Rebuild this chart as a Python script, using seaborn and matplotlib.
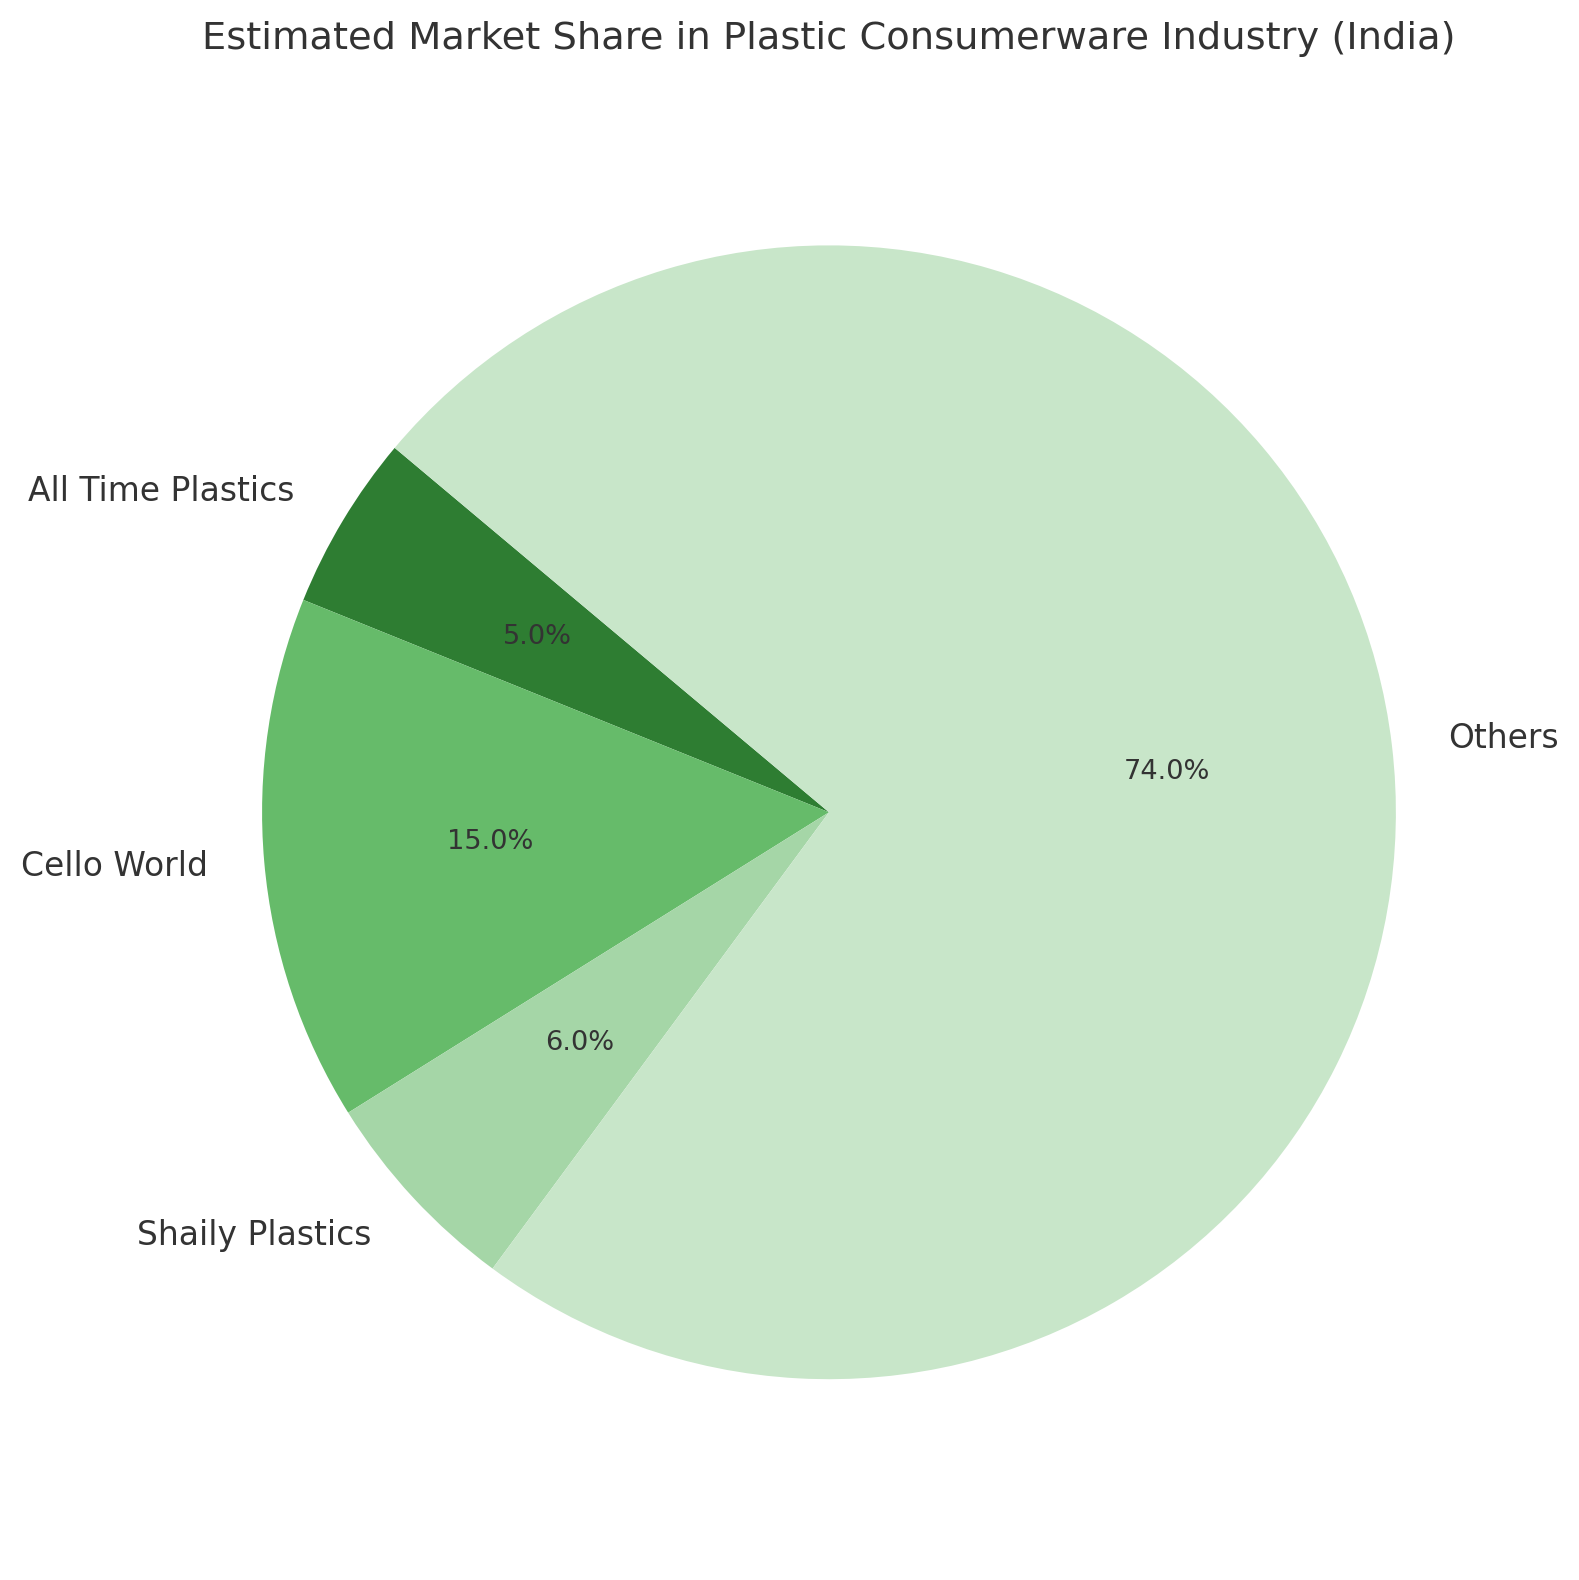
import matplotlib
matplotlib.use("Agg")
import matplotlib.pyplot as plt
import seaborn as sns

sns.set_theme(style="white")
labels = ["All Time Plastics", "Cello World", "Shaily Plastics", "Others"]
shares = [5.0, 15.0, 6.0, 74.0]
colors = ["#2e7d32", "#66bb6a", "#a5d6a7", "#c8e6c9"]

fig = plt.figure(figsize=(1579/158, 1580/158), dpi=158)
ax = fig.add_axes([0.076, 0.0374, 0.898, 0.897])
wedges, texts, autotexts = ax.pie(shares, labels=labels, colors=colors, autopct="%1.1f%%",
                                  startangle=140, wedgeprops={"linewidth": 0},
                                  textprops={"fontsize": 15, "color": "#333333"})
for t in autotexts:
    t.set_fontsize(12.4)
ax.set_xlim(-1.25, 1.25)
ax.set_ylim(-1.25, 1.25)
ax.set_aspect("equal")
ax.set_title("Estimated Market Share in Plastic Consumerware Industry (India)",
             fontsize=17.5, color="#333333", pad=25)
fig.savefig("out.png", dpi=158)
